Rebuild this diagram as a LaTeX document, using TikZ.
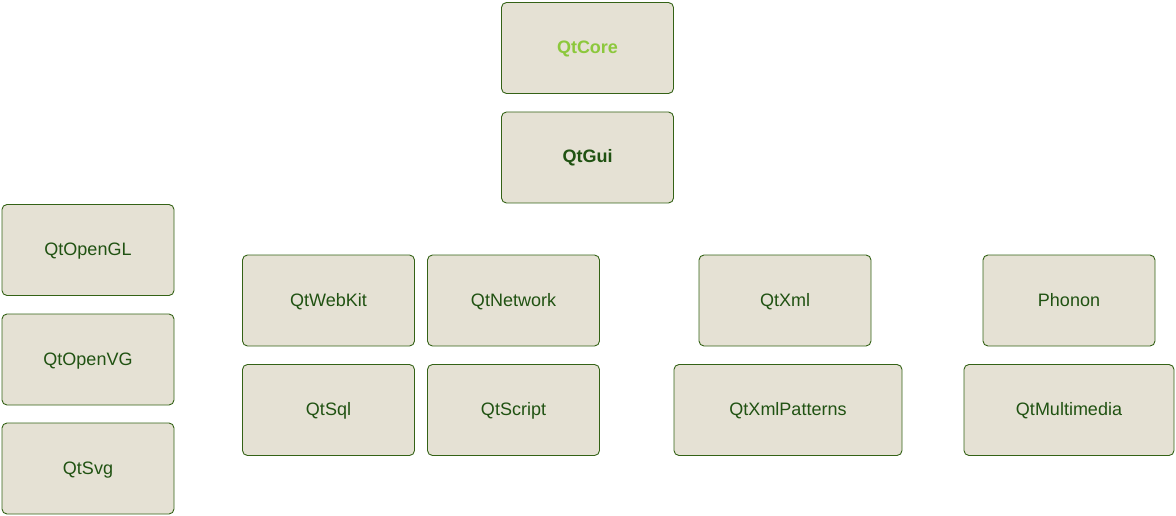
\documentclass[tikz,border=0pt]{standalone}
\usepackage{fontspec}
\setmainfont{Liberation Sans}
\usetikzlibrary{positioning}
\definecolor{boxfill}{RGB}{229,225,212}
\definecolor{boxline}{RGB}{52,98,22}
\definecolor{boxtext}{RGB}{32,82,18}
\definecolor{coretext}{RGB}{140,200,60}
\begin{document}
\begin{tikzpicture}[x=1pt, y=-1pt,
    module/.style={rectangle, draw=boxline, fill=boxfill, line width=0.9pt,
    rounded corners=5pt, minimum width=172pt, minimum height=91pt, inner sep=0pt,
    text height=13pt, text depth=2pt,
    text=boxtext, font=\fontsize{18}{21}\selectfont}]
    \useasboundingbox (0,0) rectangle (1176,516);
    \node[module,text=coretext,font=\fontsize{18}{21}\selectfont\bfseries] (core) at (587.5,48) {QtCore};
    \node[module,font=\fontsize{18}{21}\selectfont\bfseries] (gui) at (587.5,157.5) {QtGui};
    \node[module] (opengl) at (88,250) {QtOpenGL};
    \node[module] (openvg) at (88,359.5) {QtOpenVG};
    \node[module] (svg) at (88,468.5) {QtSvg};
    \node[module] (webkit) at (328.5,300.5) {QtWebKit};
    \node[module] (network) at (513.5,300.5) {QtNetwork};
    \node[module] (sql) at (328.5,410) {QtSql};
    \node[module] (script) at (513.5,410) {QtScript};
    \node[module] (xml) at (785,300.5) {QtXml};
    \node[module,minimum width=228pt] (xmlpatterns) at (788,410) {QtXmlPatterns};
    \node[module] (phonon) at (1069,300.5) {Phonon};
    \node[module,minimum width=210pt] (multimedia) at (1069,410) {QtMultimedia};
\end{tikzpicture}
\end{document}
